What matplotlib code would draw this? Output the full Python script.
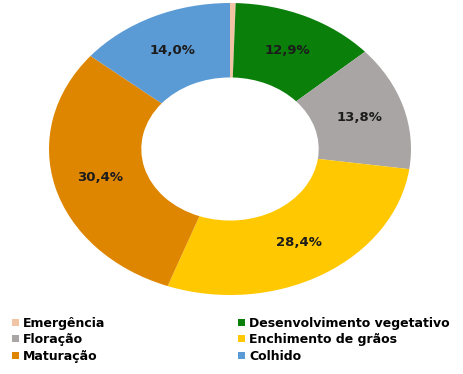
import matplotlib.pyplot as plt
from matplotlib.patches import Patch
import numpy as np

stages = ['Emergência', 'Desenvolvimento vegetativo', 'Floração',
          'Enchimento de grãos', 'Maturação', 'Colhido']
shares = [0.5, 12.9, 13.8, 28.4, 30.4, 14.0]
colors = ['#F2C4A6', '#0A7F0A', '#A9A5A4', '#FFC800', '#DF8600', '#5B9BD5']

plt.rcParams['font.family'] = ['DejaVu Sans']

fig = plt.figure(figsize=(4.64, 3.74), dpi=100)
ax = fig.add_axes([49 / 464, 1 - 295 / 374, 362 / 464, 292 / 374])

wedges, _ = ax.pie(shares, colors=colors, startangle=90, counterclock=False,
                   wedgeprops=dict(width=0.51, linewidth=0))
ax.set_aspect('auto')
ax.set_xlim(-1, 1)
ax.set_ylim(-1, 1)

total = sum(shares)
cum = 0
for v in shares:
    mid = 90 - (cum + v / 2) / total * 360
    cum += v
    if v < 2:
        continue
    r = 0.745
    ax.text(r * np.cos(np.radians(mid)), r * np.sin(np.radians(mid)),
            f'{v:.1f}%'.replace('.', ','), ha='center', va='center',
            fontsize=9.5, fontweight='bold', color='#1c1c1c')

# legend, two columns placed by hand
cols = [[0, 2, 4], [1, 3, 5]]
xs = [12.5 / 464, 238.5 / 464]
for col, x0 in zip(cols, xs):
    fig.legend([Patch(facecolor=colors[i], edgecolor='none') for i in col],
               [stages[i] for i in col], loc='upper left',
               bbox_to_anchor=(x0, 1 - 316.5 / 374), frameon=False,
               prop=dict(size=9, weight='bold'), handlelength=0.5,
               handleheight=0.5, handletextpad=0.35,
               labelspacing=0.3, borderaxespad=0, borderpad=0)

fig.savefig('out.png', dpi=100)
